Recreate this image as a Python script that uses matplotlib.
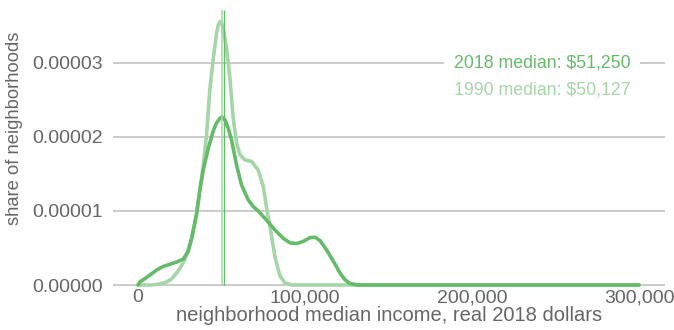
import numpy as np
import matplotlib
matplotlib.use("Agg")
import matplotlib.pyplot as plt

plt.rcParams['font.family'] = ['Liberation Sans', 'DejaVu Sans']

# density curves (income in dollars, density in 1e-5 units)
income_2018 = [0, 1000, 5000, 11000, 15000, 19000, 23000, 27000, 30000, 32000,
               35000, 37000, 39000, 42000, 45000, 47000, 49000, 50000, 51000,
               52000, 54000, 56000, 59000, 62000, 66000, 69000, 72000, 76000,
               79000, 83000, 87000, 91000, 95000, 99000, 103000, 106000,
               109000, 113000, 117000, 121000, 124000, 127000, 132000, 300000]
density_2018 = [0, 0.04, 0.10, 0.20, 0.25, 0.28, 0.31, 0.35, 0.45, 0.62,
                0.95, 1.28, 1.55, 1.84, 2.08, 2.19, 2.25, 2.27, 2.26,
                2.23, 2.12, 1.96, 1.62, 1.35, 1.15, 1.06, 1.00, 0.90,
                0.82, 0.72, 0.63, 0.57, 0.56, 0.59, 0.64, 0.645,
                0.60, 0.47, 0.32, 0.16, 0.07, 0.02, 0.0, 0.0]

income_1990 = [0, 8000, 12000, 17000, 20000, 23000, 25000, 28000, 32000, 35000,
               37000, 39000, 41000, 43000, 45000, 47000, 48000, 49000, 50000,
               51000, 53000, 55000, 57000, 59000, 61000, 64000, 68000, 72000,
               75000, 77000, 79000, 82000, 85000, 88000, 92000, 300000]
density_1990 = [0, 0, 0.01, 0.04, 0.08, 0.16, 0.22, 0.34, 0.62, 0.95,
                1.28, 1.60, 2.02, 2.64, 3.05, 3.40, 3.51, 3.56, 3.54,
                3.47, 3.20, 2.80, 2.25, 1.92, 1.76, 1.69, 1.67, 1.55,
                1.33, 1.04, 0.79, 0.38, 0.12, 0.03, 0.0, 0.0]

median_2018 = 51250
median_1990 = 50127
yticks = [0, 0.00001, 0.00002, 0.00003]
xticks = [0, 100000, 200000, 300000]

dark = '#66bb6a'
light = '#a5d6a7'
grey_text = '#666666'

fig = plt.figure(figsize=(6.74, 3.30), dpi=100)
ax = fig.add_axes([0.1677, 0.1303, 0.819, 0.8455])

for y in yticks:
    ax.axhline(y, color='#bdbdbd', lw=1.1, zorder=0)

ax.plot(income_1990, np.array(density_1990) * 1e-5, color=light, lw=2.6,
        solid_capstyle='round', solid_joinstyle='round', zorder=2)
ax.plot(income_2018, np.array(density_2018) * 1e-5, color=dark, lw=2.6,
        solid_capstyle='round', solid_joinstyle='round', zorder=3)

ax.vlines(median_1990, 0, 3.72e-5, color=light, lw=1.1, zorder=4)
ax.vlines(median_2018, 0, 3.72e-5, color=dark, lw=1.0, zorder=4)

ax.text(189000, 3.0e-5, '2018 median: $51,250', color=dark,
        fontsize=12.8, ha='left', va='center', zorder=5,
        bbox=dict(facecolor='white', edgecolor='none', pad=7))
ax.text(189000, 2.63e-5, '1990 median: $50,127', color=light,
        fontsize=12.8, ha='left', va='center', zorder=5)

ax.set_xlim(-14970, 315570)
ax.set_ylim(-0.027e-5, 3.743e-5)
ax.set_xticks(xticks)
ax.set_xticklabels(['{:,}'.format(v) for v in xticks])
ax.set_yticks(yticks)
ax.set_yticklabels(['{:.5f}'.format(v) for v in yticks])
ax.tick_params(length=0, labelsize=14, labelcolor=grey_text)
ax.tick_params(axis='y', pad=7)
ax.tick_params(axis='x', pad=1.5)
for s in ax.spines.values():
    s.set_visible(False)

ax.set_xlabel('neighborhood median income, real 2018 dollars', fontsize=14.5,
              color=grey_text, labelpad=0)
ax.set_ylabel('share of neighborhoods', fontsize=13.2, color=grey_text)
ax.yaxis.set_label_coords(-0.163, 0.57)

fig.savefig('out.png', dpi=100)
